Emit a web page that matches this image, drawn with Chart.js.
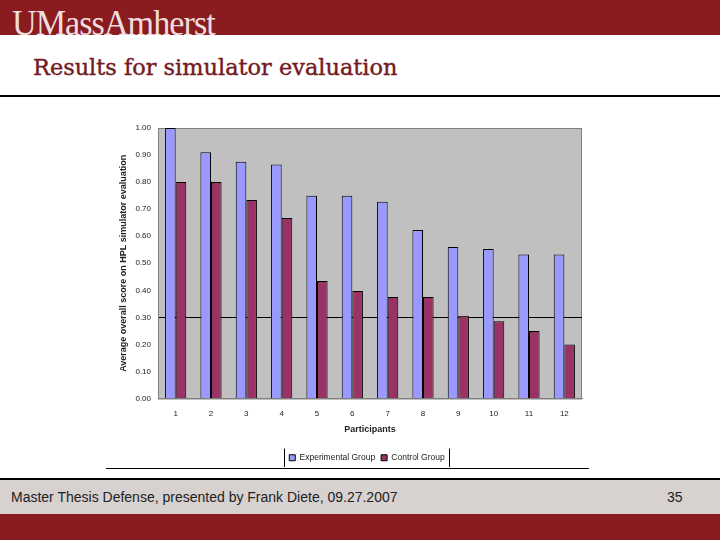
<!DOCTYPE html>
<html>
<head>
<meta charset="utf-8">
<script src="https://cdn.jsdelivr.net/npm/chart.js@4"></script>
<style>
    body { margin: 0; width: 720px; height: 540px; position: relative; background: #fff; overflow: hidden; }
    .band { position: absolute; left: 0; width: 720px; }
    #header { top: 0; height: 35px; background: #8a1c20; overflow: hidden; }
    #logo { position: absolute; left: 12px; top: 6px; line-height: 35px; font-family: "Liberation Serif", serif; font-size: 35px; color: #efdede; letter-spacing: -1px; transform-origin: 0 0; white-space: nowrap; }
    #title { position: absolute; left: 33px; top: 54px; line-height: 28px; font-family: "DejaVu Serif", serif; font-size: 22px; color: #741a22; -webkit-text-stroke: 0.4px #741a22; transform-origin: 0 0; white-space: nowrap; }
    #rule { top: 95px; height: 2px; background: #000; }
    #chartBox { position: absolute; left: 100px; top: 110px; }
    #chartLine { position: absolute; left: 106px; top: 468px; width: 483px; height: 1px; background: #000; }
    #footRule { top: 478px; height: 2px; background: #000; }
    #footer { top: 480px; height: 34px; background: #d7d1cf; font-family: "Liberation Sans", Arial, sans-serif; font-size: 14px; color: #222; }
    #footer span { position: absolute; top: 9px; }
    #bottom { top: 514px; height: 26px; background: #8a1c20; }
</style>
</head>
<body>
<div id="header" class="band"><div id="logo">UMassAmherst</div></div>
<div id="title">Results for simulator evaluation</div>
<div id="rule" class="band"></div>
<div id="chartBox"><canvas id="scoreChart" width="500" height="365"></canvas></div>
<div id="chartLine"></div>
<div id="footRule" class="band"></div>
<div id="footer" class="band">
    <span style="left:11px">Master Thesis Defense, presented by Frank Diete, 09.27.2007</span>
    <span style="left:667px">35</span>
</div>
<div id="bottom" class="band"></div>

<script>
const participants = ['1', '2', '3', '4', '5', '6', '7', '8', '9', '10', '11', '12']
const experimentalGroup = [1.00, 0.91, 0.875, 0.865, 0.75, 0.75, 0.727, 0.623, 0.56, 0.553, 0.532, 0.532]
const controlGroup = [0.80, 0.80, 0.734, 0.667, 0.434, 0.397, 0.375, 0.375, 0.306, 0.286, 0.25, 0.20]
const yTicks = [0, 0.1, 0.2, 0.3, 0.4, 0.5, 0.6, 0.7, 0.8, 0.9, 1.0]

// co chữ tiêu đề cho vừa bề ngang như slide gốc
function fitWidth(id, target) {
    const el = document.getElementById(id)
    el.style.transform = `scaleX(${target / el.offsetWidth})`
}
fitWidth('logo', 203)
fitWidth('title', 364)

const tickFont = { family: 'Liberation Sans, Arial, sans-serif', size: 8 }
const titleFont = { family: 'Liberation Sans, Arial, sans-serif', size: 9, weight: 'bold' }

// nền xám của vùng vẽ + viền trên/phải
const plotBackground = {
    id: 'plotBackground',
    beforeDraw(chart) {
        const { ctx, chartArea: a } = chart
        ctx.save()
        ctx.fillStyle = '#c0c0c0'
        ctx.fillRect(a.left, a.top, a.right - a.left, a.bottom - a.top)
        ctx.strokeStyle = '#808080'
        ctx.lineWidth = 1
        ctx.strokeRect(a.left + 0.5, a.top + 0.5, a.right - a.left - 1, a.bottom - a.top)
        ctx.restore()
    }
}

// dời chú thích sang phải cho thẳng giữa vùng vẽ, và kẻ hai vạch dọc hai bên
const legendFrame = {
    id: 'legendFrame',
    afterLayout(chart) {
        chart.legend.left += 26
        chart.legend.right += 26
    },
    afterDraw(chart) {
        const boxes = chart.legend.legendHitBoxes
        if (!boxes || !boxes.length) return
        const first = boxes[0]
        const last = boxes[boxes.length - 1]
        const x1 = Math.round(first.left - 5) + 0.5
        const x2 = Math.round(last.left + last.width + 4) + 0.5
        const y1 = first.top - 5
        const y2 = first.top + first.height + 5
        const ctx = chart.ctx
        ctx.save()
        ctx.strokeStyle = '#000'
        ctx.lineWidth = 1
        ctx.beginPath()
        ctx.moveTo(x1, y1); ctx.lineTo(x1, y2)
        ctx.moveTo(x2, y1); ctx.lineTo(x2, y2)
        ctx.stroke()
        ctx.restore()
    }
}

const ctx = document.getElementById('scoreChart').getContext('2d')
const scoreChart = new Chart(ctx, {
    type: 'bar',
    data: {
        labels: participants,
        datasets: [{
            label: 'Experimental Group',
            data: experimentalGroup,
            backgroundColor: '#9999ff',
            borderColor: '#000',
            borderWidth: 1,
            categoryPercentage: 0.6,
            barPercentage: 1.0
        }, {
            label: 'Control Group',
            data: controlGroup,
            backgroundColor: '#993366',
            borderColor: '#000',
            borderWidth: 1,
            categoryPercentage: 0.6,
            barPercentage: 1.0
        }]
    },
    options: {
        responsive: false,
        animation: false,
        layout: { padding: { top: 18, right: 18, left: 0, bottom: 3 } },
        scales: {
            x: {
                grid: { display: false, drawTicks: false },
                border: { display: true, color: '#808080' },
                ticks: { font: tickFont, color: '#222', padding: 10, maxRotation: 0 },
                title: {
                    display: true,
                    text: 'Participants',
                    font: titleFont,
                    color: '#222',
                    padding: { top: 0, bottom: 13 }
                },
                afterFit(scale) { scale.height = 49 }
            },
            y: {
                min: 0,
                max: 1,
                afterBuildTicks(scale) { scale.ticks = yTicks.map(v => ({ value: v })) },
                grid: {
                    drawTicks: false,
                    color: c => Math.abs(c.tick.value - 0.3) < 1e-6 ? '#000' : 'rgba(0,0,0,0)',
                    lineWidth: 1
                },
                border: { display: true, color: '#808080' },
                ticks: {
                    font: tickFont,
                    color: '#222',
                    padding: 7,
                    callback: v => Number(v).toFixed(2)
                },
                title: {
                    display: true,
                    text: 'Average overall score on HPL simulator evaluation',
                    font: titleFont,
                    color: '#222',
                    padding: { top: 18, bottom: 0 }
                },
                afterFit(scale) { scale.width = 58 }
            }
        },
        plugins: {
            legend: {
                position: 'bottom',
                labels: {
                    font: { family: 'Liberation Sans, Arial, sans-serif', size: 8.5 },
                    color: '#222',
                    boxWidth: 6,
                    boxHeight: 6,
                    padding: 6
                }
            },
            tooltip: { enabled: false }
        }
    },
    plugins: [plotBackground, legendFrame]
})
</script>
</body>
</html>
